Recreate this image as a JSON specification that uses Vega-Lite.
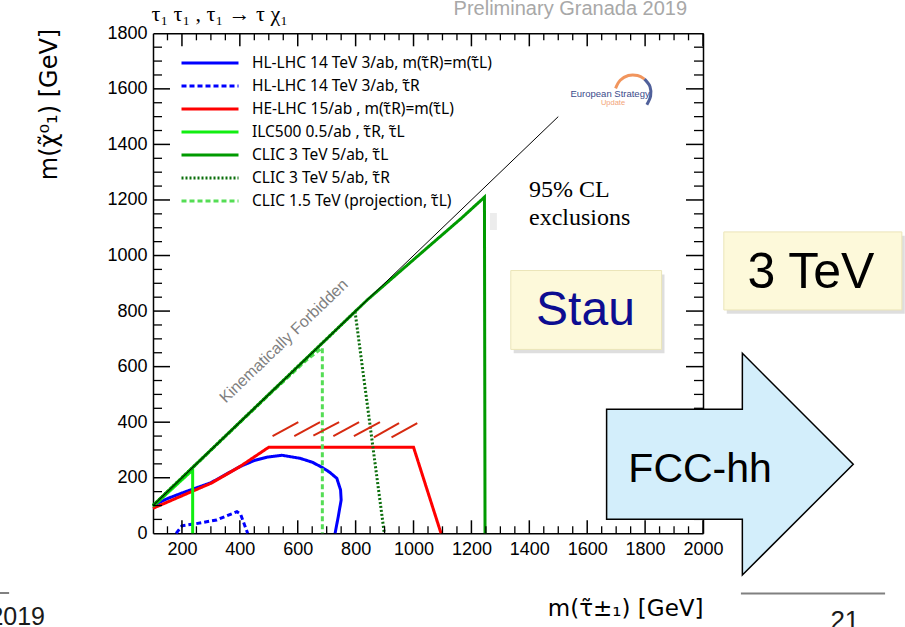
{
  "$schema": "https://vega.github.io/schema/vega-lite/v6.json",
  "width": 550,
  "height": 500,
  "autosize": {"type": "none"},
  "padding": {"left": 153, "top": 33.3, "right": 202, "bottom": 93.7},
  "background": "white",
  "config": {
    "view": {"stroke": null},
    "font": "Liberation Sans"
  },
  "datasets": {
    "curves": [
      {"series": "HL-LHC 14 TeV 3/ab, τ\u0303R", "i": 1, "m_stau": 180, "m_chi": 0},
      {"series": "HL-LHC 14 TeV 3/ab, τ\u0303R", "i": 2, "m_stau": 200, "m_chi": 27},
      {"series": "HL-LHC 14 TeV 3/ab, τ\u0303R", "i": 3, "m_stau": 245, "m_chi": 34},
      {"series": "HL-LHC 14 TeV 3/ab, τ\u0303R", "i": 4, "m_stau": 320, "m_chi": 48},
      {"series": "HL-LHC 14 TeV 3/ab, τ\u0303R", "i": 5, "m_stau": 390, "m_chi": 78},
      {"series": "HL-LHC 14 TeV 3/ab, τ\u0303R", "i": 6, "m_stau": 402, "m_chi": 70},
      {"series": "HL-LHC 14 TeV 3/ab, τ\u0303R", "i": 7, "m_stau": 427, "m_chi": 0},

      {"series": "HL-LHC 14 TeV 3/ab, m(τ\u0303R)=m(τ\u0303L)", "i": 1, "m_stau": 100, "m_chi": 100},
      {"series": "HL-LHC 14 TeV 3/ab, m(τ\u0303R)=m(τ\u0303L)", "i": 2, "m_stau": 150, "m_chi": 125},
      {"series": "HL-LHC 14 TeV 3/ab, m(τ\u0303R)=m(τ\u0303L)", "i": 3, "m_stau": 200, "m_chi": 145},
      {"series": "HL-LHC 14 TeV 3/ab, m(τ\u0303R)=m(τ\u0303L)", "i": 4, "m_stau": 300, "m_chi": 182},
      {"series": "HL-LHC 14 TeV 3/ab, m(τ\u0303R)=m(τ\u0303L)", "i": 5, "m_stau": 400, "m_chi": 240},
      {"series": "HL-LHC 14 TeV 3/ab, m(τ\u0303R)=m(τ\u0303L)", "i": 6, "m_stau": 450, "m_chi": 262},
      {"series": "HL-LHC 14 TeV 3/ab, m(τ\u0303R)=m(τ\u0303L)", "i": 7, "m_stau": 493, "m_chi": 274},
      {"series": "HL-LHC 14 TeV 3/ab, m(τ\u0303R)=m(τ\u0303L)", "i": 8, "m_stau": 545, "m_chi": 281},
      {"series": "HL-LHC 14 TeV 3/ab, m(τ\u0303R)=m(τ\u0303L)", "i": 9, "m_stau": 608, "m_chi": 270},
      {"series": "HL-LHC 14 TeV 3/ab, m(τ\u0303R)=m(τ\u0303L)", "i": 10, "m_stau": 650, "m_chi": 256},
      {"series": "HL-LHC 14 TeV 3/ab, m(τ\u0303R)=m(τ\u0303L)", "i": 11, "m_stau": 683, "m_chi": 238},
      {"series": "HL-LHC 14 TeV 3/ab, m(τ\u0303R)=m(τ\u0303L)", "i": 12, "m_stau": 710, "m_chi": 220},
      {"series": "HL-LHC 14 TeV 3/ab, m(τ\u0303R)=m(τ\u0303L)", "i": 13, "m_stau": 735, "m_chi": 198},
      {"series": "HL-LHC 14 TeV 3/ab, m(τ\u0303R)=m(τ\u0303L)", "i": 14, "m_stau": 748, "m_chi": 156},
      {"series": "HL-LHC 14 TeV 3/ab, m(τ\u0303R)=m(τ\u0303L)", "i": 15, "m_stau": 750, "m_chi": 120},
      {"series": "HL-LHC 14 TeV 3/ab, m(τ\u0303R)=m(τ\u0303L)", "i": 16, "m_stau": 740, "m_chi": 60},
      {"series": "HL-LHC 14 TeV 3/ab, m(τ\u0303R)=m(τ\u0303L)", "i": 17, "m_stau": 729, "m_chi": 0},

      {"series": "HE-LHC 15/ab , m(τ\u0303R)=m(τ\u0303L)", "i": 1, "m_stau": 100, "m_chi": 90},
      {"series": "HE-LHC 15/ab , m(τ\u0303R)=m(τ\u0303L)", "i": 2, "m_stau": 300, "m_chi": 180},
      {"series": "HE-LHC 15/ab , m(τ\u0303R)=m(τ\u0303L)", "i": 3, "m_stau": 400, "m_chi": 240},
      {"series": "HE-LHC 15/ab , m(τ\u0303R)=m(τ\u0303L)", "i": 4, "m_stau": 500, "m_chi": 310},
      {"series": "HE-LHC 15/ab , m(τ\u0303R)=m(τ\u0303L)", "i": 5, "m_stau": 1000, "m_chi": 310},
      {"series": "HE-LHC 15/ab , m(τ\u0303R)=m(τ\u0303L)", "i": 6, "m_stau": 1095, "m_chi": 0},

      {"series": "ILC500 0.5/ab , τ\u0303R, τ\u0303L", "i": 1, "m_stau": 100, "m_chi": 97},
      {"series": "ILC500 0.5/ab , τ\u0303R, τ\u0303L", "i": 2, "m_stau": 237, "m_chi": 228},
      {"series": "ILC500 0.5/ab , τ\u0303R, τ\u0303L", "i": 3, "m_stau": 237, "m_chi": 0},

      {"series": "CLIC 1.5 TeV (projection, τ\u0303L)", "i": 1, "m_stau": 100, "m_chi": 100},
      {"series": "CLIC 1.5 TeV (projection, τ\u0303L)", "i": 2, "m_stau": 500, "m_chi": 498},
      {"series": "CLIC 1.5 TeV (projection, τ\u0303L)", "i": 3, "m_stau": 631, "m_chi": 624},
      {"series": "CLIC 1.5 TeV (projection, τ\u0303L)", "i": 4, "m_stau": 685, "m_chi": 668},
      {"series": "CLIC 1.5 TeV (projection, τ\u0303L)", "i": 5, "m_stau": 685, "m_chi": 0},

      {"series": "CLIC 3 TeV 5/ab, τ\u0303R", "i": 1, "m_stau": 100, "m_chi": 100},
      {"series": "CLIC 3 TeV 5/ab, τ\u0303R", "i": 2, "m_stau": 798, "m_chi": 798},
      {"series": "CLIC 3 TeV 5/ab, τ\u0303R", "i": 3, "m_stau": 899, "m_chi": 0},

      {"series": "CLIC 3 TeV 5/ab, τ\u0303L", "i": 1, "m_stau": 100, "m_chi": 100},
      {"series": "CLIC 3 TeV 5/ab, τ\u0303L", "i": 2, "m_stau": 840, "m_chi": 840},
      {"series": "CLIC 3 TeV 5/ab, τ\u0303L", "i": 3, "m_stau": 1000, "m_chi": 985},
      {"series": "CLIC 3 TeV 5/ab, τ\u0303L", "i": 4, "m_stau": 1166, "m_chi": 1135},
      {"series": "CLIC 3 TeV 5/ab, τ\u0303L", "i": 5, "m_stau": 1245, "m_chi": 1210},
      {"series": "CLIC 3 TeV 5/ab, τ\u0303L", "i": 6, "m_stau": 1247, "m_chi": 0}
    ],
    "diag": [
      {"m_stau": 100, "m_chi": 100},
      {"m_stau": 1500, "m_chi": 1500}
    ],
    "x_major": [
      {"m_stau": 200}, {"m_stau": 400}, {"m_stau": 600}, {"m_stau": 800}, {"m_stau": 1000},
      {"m_stau": 1200}, {"m_stau": 1400}, {"m_stau": 1600}, {"m_stau": 1800}, {"m_stau": 2000}
    ],
    "x_minor": [
      {"m_stau": 150}, {"m_stau": 250}, {"m_stau": 300}, {"m_stau": 350}, {"m_stau": 450},
      {"m_stau": 500}, {"m_stau": 550}, {"m_stau": 650}, {"m_stau": 700}, {"m_stau": 750}, {"m_stau": 850},
      {"m_stau": 900}, {"m_stau": 950}, {"m_stau": 1050}, {"m_stau": 1100}, {"m_stau": 1150}, {"m_stau": 1250},
      {"m_stau": 1300}, {"m_stau": 1350}, {"m_stau": 1450}, {"m_stau": 1500}, {"m_stau": 1550}, {"m_stau": 1650},
      {"m_stau": 1700}, {"m_stau": 1750}, {"m_stau": 1850}, {"m_stau": 1900}, {"m_stau": 1950}
    ],
    "y_major": [
      {"m_chi": 200}, {"m_chi": 400}, {"m_chi": 600}, {"m_chi": 800},
      {"m_chi": 1000}, {"m_chi": 1200}, {"m_chi": 1400}, {"m_chi": 1600}
    ],
    "y_minor": [
      {"m_chi": 50}, {"m_chi": 100}, {"m_chi": 150}, {"m_chi": 250}, {"m_chi": 300}, {"m_chi": 350},
      {"m_chi": 450}, {"m_chi": 500}, {"m_chi": 550}, {"m_chi": 650}, {"m_chi": 700}, {"m_chi": 750},
      {"m_chi": 850}, {"m_chi": 900}, {"m_chi": 950}, {"m_chi": 1050}, {"m_chi": 1100}, {"m_chi": 1150},
      {"m_chi": 1250}, {"m_chi": 1300}, {"m_chi": 1350}, {"m_chi": 1450}, {"m_chi": 1500}, {"m_chi": 1550},
      {"m_chi": 1650}, {"m_chi": 1700}, {"m_chi": 1750}
    ],
    "hatch": [
      {"m_stau": 513, "m_chi": 350, "m_stau_end": 602, "m_chi_end": 400},
      {"m_stau": 588, "m_chi": 350, "m_stau_end": 677, "m_chi_end": 400},
      {"m_stau": 654, "m_chi": 352, "m_stau_end": 743, "m_chi_end": 400},
      {"m_stau": 723, "m_chi": 350, "m_stau_end": 812, "m_chi_end": 400},
      {"m_stau": 794, "m_chi": 350, "m_stau_end": 884, "m_chi_end": 400},
      {"m_stau": 863, "m_chi": 345, "m_stau_end": 950, "m_chi_end": 397},
      {"m_stau": 924, "m_chi": 345, "m_stau_end": 1013, "m_chi_end": 397}
    ],
    "arrow": [
      {"m_stau": 1667, "m_chi": 446.5, "m_chi2": 50.5},
      {"m_stau": 2135.9, "m_chi": 446.5, "m_chi2": 50.5},
      {"m_stau": 2136, "m_chi": 648, "m_chi2": -150},
      {"m_stau": 2519, "m_chi": 248.5, "m_chi2": 248.5}
    ],
    "logo_arc": [
      {"part": "orange", "i": 1, "m_stau": 1698, "m_chi": 1602},
      {"part": "orange", "i": 2, "m_stau": 1714, "m_chi": 1631},
      {"part": "orange", "i": 3, "m_stau": 1742, "m_chi": 1648},
      {"part": "orange", "i": 4, "m_stau": 1774, "m_chi": 1648},
      {"part": "orange", "i": 5, "m_stau": 1798, "m_chi": 1635},
      {"part": "blue", "i": 1, "m_stau": 1798, "m_chi": 1635},
      {"part": "blue", "i": 2, "m_stau": 1817, "m_chi": 1608},
      {"part": "blue", "i": 3, "m_stau": 1819, "m_chi": 1574},
      {"part": "blue", "i": 4, "m_stau": 1806, "m_chi": 1543}
    ]
  },
  "layer": [
    {
      "data": {"name": "curves"},
      "mark": {"type": "line", "strokeWidth": 3, "strokeCap": "butt"},
      "encoding": {
        "x": {
          "field": "m_stau", "type": "quantitative",
          "scale": {"domain": [100, 2000], "nice": false, "zero": false},
          "axis": {
            "orient": "bottom",
            "values": [200, 400, 600, 800, 1000, 1200, 1400, 1600, 1800, 2000],
            "format": "d", "ticks": false, "domain": true, "domainColor": "black", "domainWidth": 1.5,
            "labelFont": "Liberation Sans", "labelColor": "black", "labelFontSize": 18, "labelPadding": 7, "labelFlush": false, "labelOverlap": false,
            "grid": false,
            "title": "m(τ\u0303±₁) [GeV]", "titleFont": "DejaVu Sans", "titleFontWeight": "normal", "titleColor": "black", "titleFontSize": 23, "titleAnchor": "end", "titleAlign": "right",
            "titleBaseline": "alphabetic", "titleX": 550, "titleY": 82
          }
        },
        "y": {
          "field": "m_chi", "type": "quantitative",
          "scale": {"domain": [0, 1800], "nice": false, "zero": false},
          "axis": {
            "orient": "left",
            "values": [0, 200, 400, 600, 800, 1000, 1200, 1400, 1600, 1800],
            "format": "d", "ticks": false, "domain": true, "domainColor": "black", "domainWidth": 1.5,
            "labelFont": "Liberation Sans", "labelColor": "black", "labelFontSize": 18, "labelPadding": 6, "labelFlush": false, "labelOverlap": false,
            "grid": false,
            "title": "m(χ\u0303⁰₁) [GeV]", "titleFont": "DejaVu Sans", "titleFontWeight": "normal", "titleColor": "black", "titleFontSize": 24, "titleAngle": -90, "titleAlign": "right",
            "titleBaseline": "middle", "titleX": -104, "titleY": -5
          }
        },
        "color": {
          "field": "series", "type": "nominal",
          "scale": {
            "domain": ["HL-LHC 14 TeV 3/ab, m(τ\u0303R)=m(τ\u0303L)", "HL-LHC 14 TeV 3/ab, τ\u0303R", "HE-LHC 15/ab , m(τ\u0303R)=m(τ\u0303L)", "ILC500 0.5/ab , τ\u0303R, τ\u0303L", "CLIC 3 TeV 5/ab, τ\u0303L", "CLIC 3 TeV 5/ab, τ\u0303R", "CLIC 1.5 TeV (projection, τ\u0303L)"],
            "range": ["#0000ff", "#0000ff", "#ff0000", "#11ee11", "#009a00", "#0b6e0b", "#55dd55"]
          },
          "legend": {"orient": "none", "legendX": 27, "legendY": 18.5, "title": null, "symbolType": "stroke", "symbolSize": 3249, "symbolStrokeWidth": 3, "labelFont": "Noto Sans", "labelFontSize": 15.5, "labelColor": "black", "labelOffset": 12, "labelLimit": 500, "rowPadding": 0, "clipHeight": 22.6, "padding": 0}
        },
        "strokeDash": {
          "field": "series", "type": "nominal",
          "scale": {
            "domain": ["HL-LHC 14 TeV 3/ab, m(τ\u0303R)=m(τ\u0303L)", "HL-LHC 14 TeV 3/ab, τ\u0303R", "HE-LHC 15/ab , m(τ\u0303R)=m(τ\u0303L)", "ILC500 0.5/ab , τ\u0303R, τ\u0303L", "CLIC 3 TeV 5/ab, τ\u0303L", "CLIC 3 TeV 5/ab, τ\u0303R", "CLIC 1.5 TeV (projection, τ\u0303L)"],
            "range": [[1, 0], [5, 3], [1, 0], [1, 0], [1, 0], [2, 2], [5, 3]]
          },
          "legend": {"orient": "none", "legendX": 27, "legendY": 18.5, "title": null, "symbolType": "stroke", "symbolSize": 3249, "symbolStrokeWidth": 3, "labelFont": "Noto Sans", "labelFontSize": 15.5, "labelColor": "black", "labelOffset": 12, "labelLimit": 500, "rowPadding": 0, "clipHeight": 22.6, "padding": 0}
        },
        "order": {"field": "i"}
      }
    },
    {
      "data": {"name": "diag"},
      "mark": {"type": "line", "color": "black", "strokeWidth": 1},
      "encoding": {
        "x": {"field": "m_stau", "type": "quantitative",
          "axis": {"orient": "top", "labels": false, "ticks": false, "grid": false, "domain": true, "domainColor": "black", "domainWidth": 1.5, "title": null}},
        "y": {"field": "m_chi", "type": "quantitative",
          "axis": {"orient": "right", "labels": false, "ticks": false, "grid": false, "domain": true, "domainColor": "black", "domainWidth": 1.5, "title": null}}
      }
    },
    {
      "data": {"name": "hatch"},
      "mark": {"type": "rule", "color": "#d62a10", "strokeWidth": 2},
      "encoding": {
        "x": {"field": "m_stau", "type": "quantitative", "axis": null},
        "y": {"field": "m_chi", "type": "quantitative", "axis": null},
        "x2": {"field": "m_stau_end"},
        "y2": {"field": "m_chi_end"}
      }
    },
    {
      "data": {"values": [{}]},
      "mark": {"type": "text", "text": "Kinematically Forbidden", "fontSize": 16, "color": "#7f7f7f", "angle": -43.8, "align": "center", "baseline": "middle"},
      "encoding": {
        "x": {"datum": 552, "type": "quantitative", "axis": null},
        "y": {"datum": 692, "type": "quantitative", "axis": null}
      }
    },
    {
      "data": {"values": [{}]},
      "mark": {"type": "rect", "color": "#ececec"},
      "encoding": {
        "x": {"datum": 1264, "type": "quantitative", "axis": null},
        "x2": {"datum": 1288},
        "y": {"datum": 1153, "type": "quantitative", "axis": null},
        "y2": {"datum": 1092}
      }
    },
    {
      "data": {"values": [{}]},
      "mark": {"type": "text", "text": "τ₁ τ₁ , τ₁ → τ χ₁", "font": "Liberation Serif", "fontSize": 22, "align": "left", "baseline": "alphabetic", "color": "black"},
      "encoding": {
        "x": {"datum": 95, "type": "quantitative", "axis": null},
        "y": {"datum": 1845, "type": "quantitative", "axis": null}
      }
    },
    {
      "data": {"values": [{}]},
      "mark": {"type": "text", "text": "Preliminary Granada 2019", "fontSize": 20, "align": "right", "baseline": "alphabetic", "color": "#a8a8a8"},
      "encoding": {
        "x": {"datum": 1945, "type": "quantitative", "axis": null},
        "y": {"datum": 1866, "type": "quantitative", "axis": null}
      }
    },
    {
      "data": {"values": [{}]},
      "mark": {"type": "text", "text": ["95% CL", "exclusions"], "font": "Liberation Serif", "fontSize": 24, "lineHeight": 28, "align": "left", "baseline": "alphabetic", "color": "black"},
      "encoding": {
        "x": {"datum": 1399, "type": "quantitative", "axis": null},
        "y": {"datum": 1212, "type": "quantitative", "axis": null}
      }
    },
    {
      "data": {"name": "logo_arc"},
      "transform": [{"filter": "datum.part === 'orange'"}],
      "mark": {"type": "line", "color": "#f08a4b", "strokeWidth": 3, "interpolate": "cardinal", "opacity": 0.9},
      "encoding": {
        "x": {"field": "m_stau", "type": "quantitative", "axis": null},
        "y": {"field": "m_chi", "type": "quantitative", "axis": null},
        "order": {"field": "i"}
      }
    },
    {
      "data": {"name": "logo_arc"},
      "transform": [{"filter": "datum.part === 'blue'"}],
      "mark": {"type": "line", "color": "#3d4f8f", "strokeWidth": 3, "interpolate": "cardinal", "opacity": 0.9},
      "encoding": {
        "x": {"field": "m_stau", "type": "quantitative", "axis": null},
        "y": {"field": "m_chi", "type": "quantitative", "axis": null},
        "order": {"field": "i"}
      }
    },
    {
      "data": {"values": [{}]},
      "mark": {"type": "text", "text": "European Strategy", "fontSize": 9.5, "align": "center", "baseline": "alphabetic", "color": "#3b4b8b"},
      "encoding": {
        "x": {"datum": 1679, "type": "quantitative", "axis": null},
        "y": {"datum": 1572, "type": "quantitative", "axis": null}
      }
    },
    {
      "data": {"values": [{}]},
      "mark": {"type": "text", "text": "Update", "fontSize": 7.5, "align": "center", "baseline": "alphabetic", "color": "#f2a57a"},
      "encoding": {
        "x": {"datum": 1689, "type": "quantitative", "axis": null},
        "y": {"datum": 1543, "type": "quantitative", "axis": null}
      }
    },
    {
      "data": {"values": [{}]},
      "mark": {"type": "rect", "color": "black", "opacity": 0.13},
      "encoding": {
        "x": {"datum": 1346, "type": "quantitative", "axis": null},
        "x2": {"datum": 1867},
        "y": {"datum": 932, "type": "quantitative", "axis": null},
        "y2": {"datum": 648}
      }
    },
    {
      "data": {"values": [{}]},
      "mark": {"type": "rect", "fill": "#fdf9da", "stroke": "#ebe5b8", "strokeWidth": 1},
      "encoding": {
        "x": {"datum": 1336, "type": "quantitative", "axis": null},
        "x2": {"datum": 1857},
        "y": {"datum": 946, "type": "quantitative", "axis": null},
        "y2": {"datum": 662}
      }
    },
    {
      "data": {"values": [{}]},
      "mark": {"type": "text", "text": "Stau", "fontSize": 48, "align": "center", "baseline": "alphabetic", "color": "#0d0d91"},
      "encoding": {
        "x": {"datum": 1594, "type": "quantitative", "axis": null},
        "y": {"datum": 750, "type": "quantitative", "axis": null}
      }
    },
    {
      "data": {"name": "x_major"},
      "mark": {"type": "rule", "color": "black", "strokeWidth": 1.5, "opacity": 1},
      "encoding": {
        "x": {"field": "m_stau", "type": "quantitative", "axis": null},
        "y": {"datum": 0, "type": "quantitative", "axis": null},
        "y2": {"datum": 46.8}
      }
    },
    {
      "data": {"name": "x_major"},
      "mark": {"type": "rule", "color": "black", "strokeWidth": 1.5, "opacity": 1},
      "encoding": {
        "x": {"field": "m_stau", "type": "quantitative", "axis": null},
        "y": {"datum": 1800, "type": "quantitative", "axis": null},
        "y2": {"datum": 1753.2}
      }
    },
    {
      "data": {"name": "x_minor"},
      "mark": {"type": "rule", "color": "black", "strokeWidth": 1.3, "opacity": 1},
      "encoding": {
        "x": {"field": "m_stau", "type": "quantitative", "axis": null},
        "y": {"datum": 0, "type": "quantitative", "axis": null},
        "y2": {"datum": 25.2}
      }
    },
    {
      "data": {"name": "x_minor"},
      "mark": {"type": "rule", "color": "black", "strokeWidth": 1.3, "opacity": 1},
      "encoding": {
        "x": {"field": "m_stau", "type": "quantitative", "axis": null},
        "y": {"datum": 1800, "type": "quantitative", "axis": null},
        "y2": {"datum": 1774.8}
      }
    },
    {
      "data": {"name": "y_major"},
      "mark": {"type": "rule", "color": "black", "strokeWidth": 1.5, "opacity": 1},
      "encoding": {
        "y": {"field": "m_chi", "type": "quantitative", "axis": null},
        "x": {"datum": 100, "type": "quantitative", "axis": null},
        "x2": {"datum": 158.7}
      }
    },
    {
      "data": {"name": "y_major"},
      "mark": {"type": "rule", "color": "black", "strokeWidth": 1.5, "opacity": 1},
      "encoding": {
        "y": {"field": "m_chi", "type": "quantitative", "axis": null},
        "x": {"datum": 2000, "type": "quantitative", "axis": null},
        "x2": {"datum": 1941.3}
      }
    },
    {
      "data": {"name": "y_minor"},
      "mark": {"type": "rule", "color": "black", "strokeWidth": 1.3, "opacity": 1},
      "encoding": {
        "y": {"field": "m_chi", "type": "quantitative", "axis": null},
        "x": {"datum": 100, "type": "quantitative", "axis": null},
        "x2": {"datum": 131.1}
      }
    },
    {
      "data": {"name": "y_minor"},
      "mark": {"type": "rule", "color": "black", "strokeWidth": 1.3, "opacity": 1},
      "encoding": {
        "y": {"field": "m_chi", "type": "quantitative", "axis": null},
        "x": {"datum": 2000, "type": "quantitative", "axis": null},
        "x2": {"datum": 1968.9}
      }
    },
    {
      "data": {"values": [{}]},
      "mark": {"type": "rect", "color": "black", "opacity": 0.13},
      "encoding": {
        "x": {"datum": 2082, "type": "quantitative", "axis": null},
        "x2": {"datum": 2697},
        "y": {"datum": 1071, "type": "quantitative", "axis": null},
        "y2": {"datum": 790}
      }
    },
    {
      "data": {"values": [{}]},
      "mark": {"type": "rect", "fill": "#fdf9da", "stroke": "#ebe5b8", "strokeWidth": 1},
      "encoding": {
        "x": {"datum": 2072, "type": "quantitative", "axis": null},
        "x2": {"datum": 2687},
        "y": {"datum": 1085, "type": "quantitative", "axis": null},
        "y2": {"datum": 804}
      }
    },
    {
      "data": {"values": [{}]},
      "mark": {"type": "text", "text": "3 TeV", "fontSize": 50, "align": "center", "baseline": "alphabetic", "color": "black"},
      "encoding": {
        "x": {"datum": 2373, "type": "quantitative", "axis": null},
        "y": {"datum": 882, "type": "quantitative", "axis": null}
      }
    },
    {
      "data": {"name": "arrow"},
      "mark": {"type": "area", "fill": "#d3eefb", "stroke": "black", "strokeWidth": 1.5, "strokeJoin": "miter", "orient": "vertical"},
      "encoding": {
        "x": {"field": "m_stau", "type": "quantitative", "axis": null},
        "y": {"field": "m_chi", "type": "quantitative", "axis": null, "stack": null},
        "y2": {"field": "m_chi2"}
      }
    },
    {
      "data": {"values": [{}]},
      "mark": {"type": "text", "text": "FCC-hh", "fontSize": 41, "align": "center", "baseline": "alphabetic", "color": "black"},
      "encoding": {
        "x": {"datum": 1990, "type": "quantitative", "axis": null},
        "y": {"datum": 186, "type": "quantitative", "axis": null}
      }
    },
    {
      "data": {"values": [{}]},
      "mark": {"type": "rule", "color": "#808080", "strokeWidth": 2},
      "encoding": {
        "x": {"datum": 2131, "type": "quantitative", "axis": null},
        "x2": {"datum": 2629},
        "y": {"datum": -217, "type": "quantitative", "axis": null}
      }
    },
    {
      "data": {"values": [{}]},
      "mark": {"type": "rule", "color": "#808080", "strokeWidth": 2},
      "encoding": {
        "x": {"datum": -430, "type": "quantitative", "axis": null},
        "x2": {"datum": -397},
        "y": {"datum": -215, "type": "quantitative", "axis": null}
      }
    },
    {
      "data": {"values": [{}]},
      "mark": {"type": "text", "text": "2019", "fontSize": 25, "align": "right", "baseline": "alphabetic", "color": "#1a1a1a"},
      "encoding": {
        "x": {"datum": -273, "type": "quantitative", "axis": null},
        "y": {"datum": -330, "type": "quantitative", "axis": null}
      }
    },
    {
      "data": {"values": [{}]},
      "mark": {"type": "text", "text": "21", "fontSize": 26, "align": "center", "baseline": "alphabetic", "color": "#1a1a1a"},
      "encoding": {
        "x": {"datum": 2490, "type": "quantitative", "axis": null},
        "y": {"datum": -345, "type": "quantitative", "axis": null}
      }
    }
  ],
  "resolve": {"axis": {"x": "independent", "y": "independent"}}
}
